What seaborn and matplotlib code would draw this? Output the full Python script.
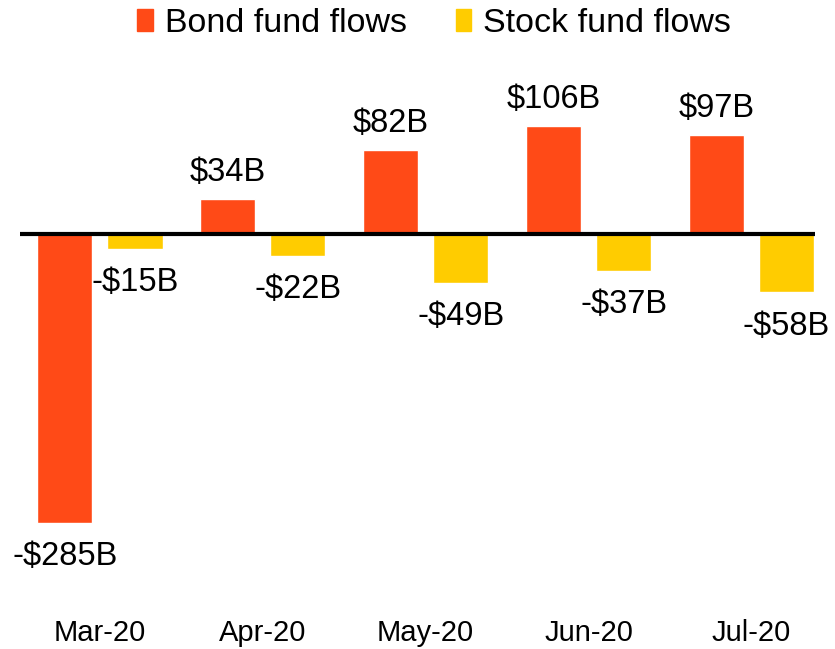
import pandas as pd
import seaborn as sns
import matplotlib.pyplot as plt

months = ['Mar-20', 'Apr-20', 'May-20', 'Jun-20', 'Jul-20']
bond_flows = [-285, 34, 82, 106, 97]
stock_flows = [-15, -22, -49, -37, -58]
series = ['Bond fund flows', 'Stock fund flows']
colors = ['#FF4A17', '#FFCC00']

data = pd.DataFrame({
    'month': months * 2,
    'flow': bond_flows + stock_flows,
    'series': [series[0]] * len(months) + [series[1]] * len(months),
})

sns.set_style('white')
plt.rcParams['font.family'] = ['Liberation Sans', 'DejaVu Sans']
plt.rcParams['text.color'] = 'black'
plt.rcParams['xtick.color'] = 'black'

fig = plt.figure(figsize=(8.35, 6.49), dpi=100)
ax = fig.add_axes([20 / 835, 1 - 600 / 649, 795 / 835, 545 / 649])

sns.barplot(data=data, x='month', y='flow', hue='series', palette=colors,
            width=0.86, gap=0.21, saturation=1, ax=ax, legend=False)

ax.set_xlim(-0.49, 4.39)
ax.set_ylim(-361, 176)
ax.axhline(0, color='black', lw=3, zorder=5)

# value labels
for cont in ax.containers:
    for bar in cont:
        v = bar.get_height()
        x = bar.get_x() + bar.get_width() / 2
        if v >= 0:
            ax.annotate(f'${v:.0f}B', (x, v), xytext=(0, 8), textcoords='offset points',
                        ha='center', va='bottom', fontsize=23.5)
        else:
            ax.annotate(f'-${-v:.0f}B', (x, v), xytext=(0, -13), textcoords='offset points',
                        ha='center', va='top', fontsize=23.5)

ax.set_xlabel('')
ax.set_ylabel('')
ax.set_yticks([])
ax.tick_params(axis='x', length=0, labelsize=21, pad=14)
sns.despine(ax=ax, left=True, bottom=True)

handles = [plt.Rectangle((0, 0), 1, 1, color=c) for c in colors]
fig.legend(handles, series, loc='upper center', bbox_to_anchor=(0.52, 1.035), ncol=2,
           frameon=False, fontsize=24.5, handlelength=0.45, handleheight=0.6,
           handletextpad=0.35, columnspacing=1.45)

fig.savefig('out.png', dpi=100)
